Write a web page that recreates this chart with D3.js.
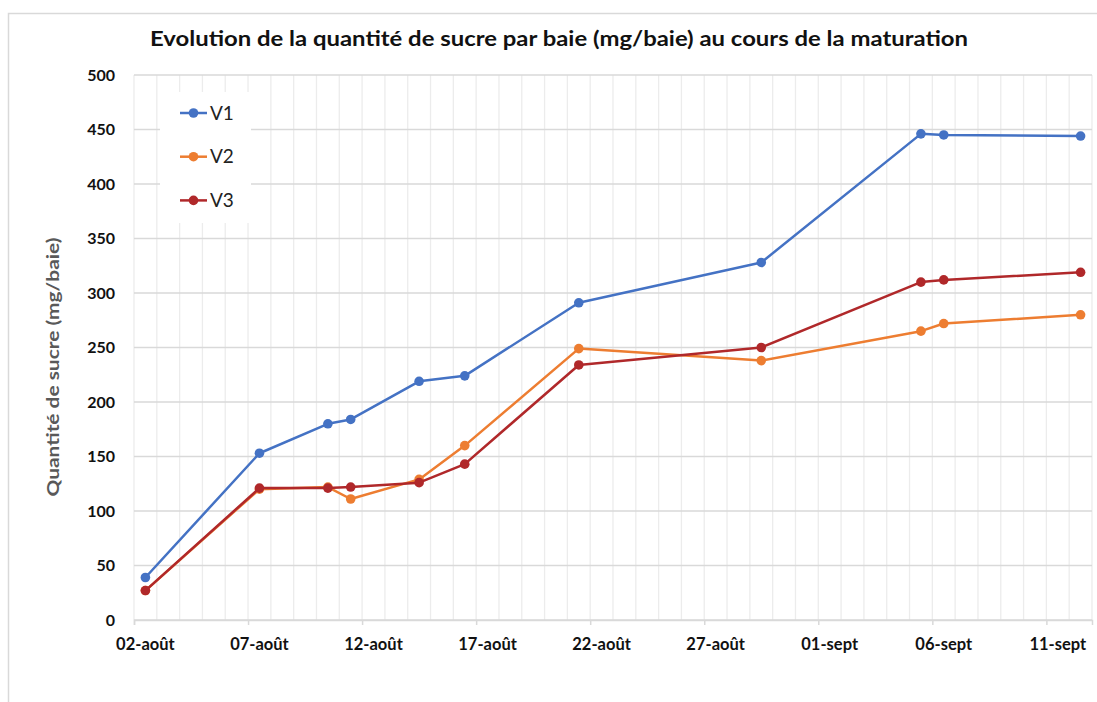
<!DOCTYPE html>
<html>
<head>
<meta charset="utf-8">
<script src="https://cdn.jsdelivr.net/npm/d3@7"></script>
<style>
  body { margin: 0; background: #fff; }
  svg { display: block; }
</style>
</head>
<body>
<div id="chart"></div>
<script>
const W = 1097, H = 702;
const margin = {top: 75, right: 5, bottom: 82, left: 134};

// dates of sampling and sugar per berry (mg/baie)
const dates = ["2019-08-02", "2019-08-07", "2019-08-10", "2019-08-11", "2019-08-14", "2019-08-16",
               "2019-08-21", "2019-08-29", "2019-09-05", "2019-09-06", "2019-09-12"];
const v1 = [39, 153, 180, 184, 219, 224, 291, 328, 446, 445, 444];
const v2 = [27, 120, 122, 111, 129, 160, 249, 238, 265, 272, 280];
const v3 = [27, 121, 121, 122, 126, 143, 234, 250, 310, 312, 319];
const seriesNames = ["V1", "V2", "V3"];
const colors = ["#4472c4", "#ed7d31", "#b0282a"];
const yTicks = [0, 50, 100, 150, 200, 250, 300, 350, 400, 450, 500];
const xTickDates = ["2019-08-02", "2019-08-07", "2019-08-12", "2019-08-17", "2019-08-22",
                    "2019-08-27", "2019-09-01", "2019-09-06", "2019-09-11"];
const xStart = "2019-08-02", xEnd = "2019-09-13";

const parse = d3.timeParse("%Y-%m-%d");
const frMonths = ["janv", "févr", "mars", "avr", "mai", "juin", "juil", "août", "sept", "oct", "nov", "déc"];
const fmt = d => d3.timeFormat("%d")(d) + "-" + frMonths[d.getMonth()];
const mid = d => d3.timeHour.offset(d, 12);

const svg = d3.select("#chart").append("svg")
    .attr("width", W)
    .attr("height", H);

// chart frame
svg.append("rect")
    .attr("x", 8.5).attr("y", 13.5)
    .attr("width", W + 10).attr("height", H + 10)
    .attr("fill", "none")
    .attr("stroke", "#d9d9d9")
    .attr("stroke-width", 1.5);

const x = d3.scaleTime()
    .domain([parse(xStart), parse(xEnd)])
    .range([margin.left, W - margin.right]);
const y = d3.scaleLinear()
    .domain([0, 500])
    .range([H - margin.bottom, margin.top]);

// daily vertical gridlines
const days = d3.timeDay.range(parse(xStart), d3.timeDay.offset(parse(xEnd), 1));
svg.append("g").selectAll("line")
    .data(days)
    .enter().append("line")
    .attr("x1", d => x(d)).attr("x2", d => x(d))
    .attr("y1", y(500)).attr("y2", y(0))
    .attr("stroke", "#ececec")
    .attr("stroke-width", 1.3);

// horizontal gridlines
svg.append("g").selectAll("line")
    .data(yTicks)
    .enter().append("line")
    .attr("x1", x.range()[0]).attr("x2", x.range()[1])
    .attr("y1", d => y(d)).attr("y2", d => y(d))
    .attr("stroke", "#d9d9d9")
    .attr("stroke-width", 1.3);

// x axis
const xAxis = svg.append("g")
    .attr("transform", "translate(0," + y(0) + ")")
    .call(d3.axisBottom(x).tickValues(xTickDates.map(parse)).tickSize(5).tickFormat(""));
xAxis.select("path.domain").attr("stroke", "#d9d9d9").attr("stroke-width", 1.5);
xAxis.selectAll(".tick line").attr("stroke", "#d9d9d9").attr("stroke-width", 1.5);

svg.append("g").selectAll("text")
    .data(xTickDates.map(parse))
    .enter().append("text")
    .attr("x", d => x(mid(d)))
    .attr("y", y(0) + 30)
    .attr("text-anchor", "middle")
    .style("font-family", "Lato, 'Open Sans', sans-serif")
    .style("font-weight", "bold")
    .style("font-size", "16.5px")
    .attr("fill", "#111")
    .text(fmt);

// y axis labels
const yAxis = svg.append("g")
    .attr("transform", "translate(" + (margin.left - 19) + ",0)")
    .call(d3.axisLeft(y).tickValues(yTicks).tickSize(0));
yAxis.select("path.domain").remove();
yAxis.selectAll("text")
    .attr("x", 0)
    .style("font-family", "Lato, 'Open Sans', sans-serif")
    .style("font-weight", "bold")
    .style("font-size", "16px")
    .attr("fill", "#111");

// legend background
svg.append("rect")
    .attr("x", 160).attr("y", 92)
    .attr("width", 91).attr("height", 131)
    .attr("fill", "#fff");

const data = [v1, v2, v3].map((vals, i) => ({
    name: seriesNames[i],
    color: colors[i],
    values: vals.map((v, j) => ({date: mid(parse(dates[j])), value: v}))
}));

const line = d3.line()
    .x(d => x(d.date))
    .y(d => y(d.value));

const series = svg.append("g").selectAll("g")
    .data(data)
    .enter().append("g");

series.append("path")
    .attr("d", d => line(d.values))
    .attr("fill", "none")
    .attr("stroke", d => d.color)
    .attr("stroke-width", 2.5)
    .attr("stroke-linejoin", "round");

series.selectAll("circle")
    .data(d => d.values.map(v => ({...v, color: d.color})))
    .enter().append("circle")
    .attr("cx", d => x(d.date))
    .attr("cy", d => y(d.value))
    .attr("r", 4.8)
    .attr("fill", d => d.color);

// legend
const legend = svg.append("g").selectAll("g")
    .data(data)
    .enter().append("g")
    .attr("transform", (d, i) => "translate(180," + (113 + i * 43.7) + ")");
legend.append("line")
    .attr("x1", 0).attr("x2", 27)
    .attr("stroke", d => d.color)
    .attr("stroke-width", 2.5);
legend.append("circle")
    .attr("cx", 13.5).attr("r", 4.8)
    .attr("fill", d => d.color);
legend.append("text")
    .attr("x", 30).attr("y", 6.5)
    .style("font-family", "Lato, 'Open Sans', sans-serif")
    .style("font-size", "19px")
    .attr("fill", "#222")
    .text(d => d.name);

// title
svg.append("text")
    .attr("x", 559).attr("y", 46)
    .attr("text-anchor", "middle")
    .style("font-family", "Lato, 'Open Sans', sans-serif")
    .style("font-weight", "bold")
    .style("font-size", "21px")
    .attr("fill", "#111")
    .attr("textLength", 818)
    .attr("lengthAdjust", "spacingAndGlyphs")
    .text("Evolution de la quantité de sucre par baie (mg/baie) au cours de la maturation");

// y axis title
svg.append("text")
    .attr("transform", "translate(59,367) rotate(-90)")
    .attr("text-anchor", "middle")
    .style("font-family", "Lato, 'Open Sans', sans-serif")
    .style("font-weight", "bold")
    .style("font-size", "17px")
    .attr("fill", "#595959")
    .attr("textLength", 259)
    .attr("lengthAdjust", "spacingAndGlyphs")
    .text("Quantité de sucre (mg/baie)");
</script>
</body>
</html>
